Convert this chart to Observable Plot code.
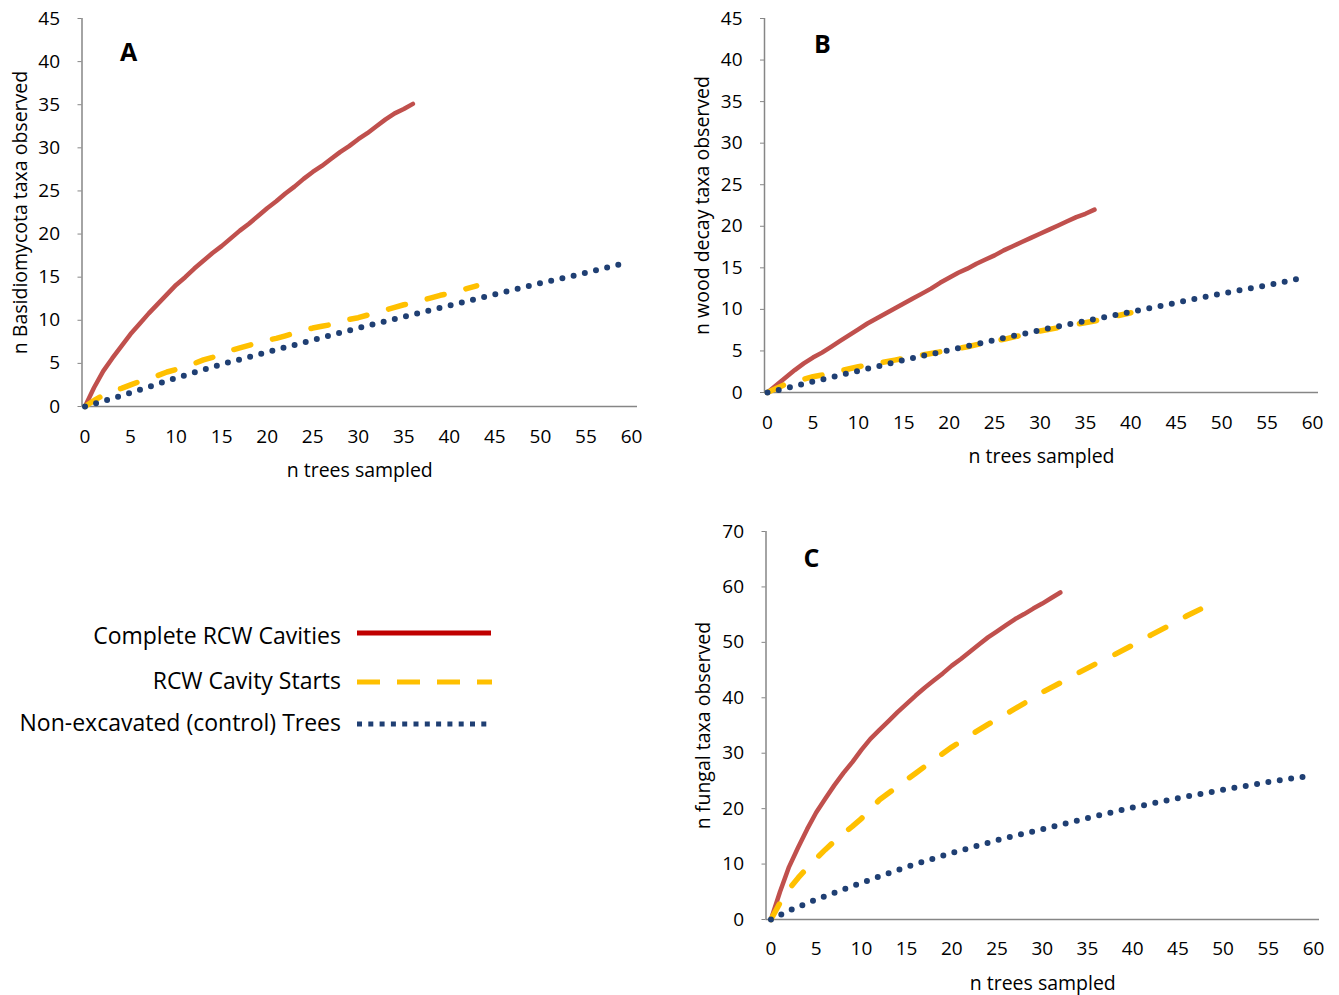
<!DOCTYPE html>
<html><head><meta charset="utf-8">
<script src="https://cdn.jsdelivr.net/npm/d3@7"></script>
<script src="https://cdn.jsdelivr.net/npm/@observablehq/plot@0.6"></script>
<style>
body{margin:0;background:#fff;}
#wrap{position:relative;width:1339px;height:995px;overflow:hidden;background:#fff;}
#wrap > svg{position:absolute;overflow:visible;}
[aria-label="y-axis tick"]{stroke:#868686;}
g[aria-label="y-axis"] .tick line{stroke:#868686;}
g[aria-label="y-axis"] .domain, g[aria-label="x-axis"] .domain{display:none;}
</style></head><body><div id="wrap"></div>
<script>
// ---- shared labels ----
const seriesNames = ["Complete RCW Cavities", "RCW Cavity Starts", "Non-excavated (control) Trees"];
const xTicks = [0,5,10,15,20,25,30,35,40,45,50,55,60];
const xTitle = "n trees sampled";

// ---- Panel A : Basidiomycota ----
const aLetter = "A";
const aYTitle = "n Basidiomycota taxa observed";
const aYTicks = [0,5,10,15,20,25,30,35,40,45];
const aComplete = [0,2.2,4.1,5.6,7.0,8.4,9.6,10.8,11.9,13.0,14.1,15.0,16.0,16.9,17.8,18.6,19.5,20.4,21.2,22.1,23.0,23.8,24.7,25.5,26.4,27.2,27.9,28.7,29.5,30.2,31.0,31.7,32.5,33.3,34.0,34.5,35.1];
const aStarts = [0,0.7,1.3,1.8,2.1,2.5,2.9,3.2,3.6,4.0,4.3,4.7,5.0,5.4,5.7,6.1,6.5,6.8,7.1,7.4,7.7,7.9,8.2,8.5,8.8,9.1,9.3,9.5,9.8,10.1,10.3,10.6,10.9,11.2,11.5,11.8,12.0,12.3,12.6,12.9,13.1,13.4,13.7,14.0];
const aControl = [[0,0],[2,0.6],[5,1.6],[10,3.3],[15,4.9],[20,6.3],[25,7.7],[30,9.1],[35,10.4],[40,11.7],[45,13.0],[50,14.3],[55,15.5],[59.5,16.7]];

// ---- Panel B : wood decay ----
const bLetter = "B";
const bYTitle = "n wood decay taxa observed";
const bYTicks = [0,5,10,15,20,25,30,35,40,45];
const bComplete = [0,0.9,1.8,2.7,3.5,4.2,4.8,5.5,6.2,6.9,7.6,8.3,8.9,9.5,10.1,10.7,11.3,11.9,12.5,13.2,13.8,14.4,14.9,15.5,16.0,16.5,17.1,17.6,18.1,18.6,19.1,19.6,20.1,20.6,21.1,21.5,22.0];
const bStarts = [[0,0],[1,0.5],[2,1.0],[4,1.6],[5,1.9],[6,2.1],[8,2.6],[10,3.1],[12,3.5],[14,3.9],[16,4.3],[18,4.7],[20,5.1],[22,5.5],[24,6.0],[26,6.4],[28,6.9],[30,7.4],[32,7.8],[34,8.2],[36,8.6],[38,9.1],[40,9.6]];
const bControl = [[0,0],[2,0.5],[5,1.3],[10,2.6],[15,3.9],[20,5.1],[25,6.3],[30,7.5],[35,8.6],[40,9.7],[45,10.8],[50,11.9],[55,12.9],[59,13.8]];

// ---- Panel C : all fungal ----
const cLetter = "C";
const cYTitle = "n fungal taxa observed";
const cYTicks = [0,10,20,30,40,50,60,70];
const cComplete = [0,5.0,9.5,13.0,16.3,19.3,21.8,24.2,26.4,28.4,30.6,32.6,34.2,35.8,37.4,38.9,40.4,41.8,43.1,44.4,45.8,47.0,48.3,49.6,50.9,52.0,53.1,54.2,55.1,56.1,57.0,58.0,59.0];
const cStarts = [[0,0],[1,3.0],[2,5.5],[3,7.5],[4,9.3],[5,11.0],[6,12.6],[7,14.1],[8,15.5],[9,16.8],[10,18.2],[12,21.6],[14,24.0],[16,26.4],[18,28.8],[20,31.1],[22,33.2],[24,35.2],[26,37.1],[28,39.0],[30,41.0],[32,42.7],[34,44.5],[36,46.2],[38,47.8],[40,49.5],[42,51.3],[44,53.0],[46,54.8],[47.5,56.0]];
const cControl = [[0,0],[2,1.6],[5,3.6],[10,6.6],[15,9.5],[20,12.0],[25,14.3],[30,16.3],[35,18.3],[40,20.2],[45,21.9],[50,23.4],[55,24.8],[59.5,25.9]];

// ---- styles ----
const FONT = "Open Sans";
const lineStyles = [
  {stroke:"#C0504D", strokeWidth:4.5, strokeLinecap:"round", strokeLinejoin:"round"},
  {stroke:"#FFC000", strokeWidth:5.5, strokeDasharray:"17.5,22.5", strokeLinecap:"round"},
  {stroke:"#1F3F73", strokeWidth:6, strokeDasharray:"0,11.5", strokeLinecap:"round"}
];
const legendStyles = [
  {stroke:"#C00000", width:5, dash:null},
  {stroke:"#FFC000", width:5, dash:"23,17"},
  {stroke:"#1F3F73", width:5, dash:"5,6.3"}
];

const idx = arr => arr.map((y,i)=>[i,y]);
const pairs = arr => (Array.isArray(arr[0]) ? arr : idx(arr)).map(([x,y])=>({x,y}));

function panel(o){
  const series = [o.complete, o.starts, o.control].map(pairs);
  const svg = Plot.plot({
    width:o.w, height:o.h,
    marginLeft:o.ml, marginRight:o.mr, marginTop:o.mt, marginBottom:o.mb,
    style:{fontFamily:FONT, fontSize:"19px", color:"#000", background:"transparent", overflow:"visible"},
    x:{domain:o.xDomain, ticks:xTicks, tickSize:0, tickPadding:o.xPad, label:null, tickFormat:d=>String(d)},
    y:{domain:[o.yTicks[0], o.yTicks[o.yTicks.length-1]], ticks:o.yTicks, tickSize:4, tickPadding:18, label:null, tickFormat:d=>String(d)},
    marks:[
      Plot.ruleY([o.yTicks[0]], {stroke:"#868686", strokeWidth:1.5}),
      Plot.ruleX([o.xDomain[0]], {stroke:"#868686", strokeWidth:1.5}),
      ...series.map((d,i)=>Plot.line(d, {x:"x", y:"y", ...lineStyles[i]})),
      Plot.text([o.letter], {text:d=>d, frameAnchor:"top-left", dx:o.ldx, dy:o.ldy, textAnchor:"middle", lineAnchor:"middle", fontSize:25, fontWeight:"bold", fill:"#000"}),
      Plot.text([xTitle], {text:d=>d, frameAnchor:"bottom", dy:64, textAnchor:"middle", lineAnchor:"middle", fontSize:19.5, fill:"#000"}),
      Plot.text([o.yTitle], {text:d=>d, frameAnchor:"left", dx:o.tdx, rotate:-90, textAnchor:"middle", lineAnchor:"middle", fontSize:19.5, fill:"#000"})
    ]
  });
  svg.style.left = o.left + "px";
  svg.style.top = o.top + "px";
  return svg;
}

const wrap = document.getElementById("wrap");
wrap.appendChild(panel({left:0, top:0, w:660, h:490, ml:81.5, mr:23, mt:18, mb:84, xDomain:[-0.33,60.66], xPad:23,
  yTicks:aYTicks, complete:aComplete, starts:aStarts, control:aControl, letter:aLetter, ldx:46.5, ldy:34, yTitle:aYTitle, tdx:-61.5}));
wrap.appendChild(panel({left:680, top:0, w:659, h:480, ml:84, mr:21, mt:18, mb:88, xDomain:[-0.33,60.66], xPad:23,
  yTicks:bYTicks, complete:bComplete, starts:bStarts, control:bControl, letter:bLetter, ldx:58, ldy:26, yTitle:bYTitle, tdx:-62}));
wrap.appendChild(panel({left:680, top:510, w:659, h:485, ml:85.5, mr:20, mt:21, mb:76, xDomain:[-0.55,60.66], xPad:22,
  yTicks:cYTicks, complete:cComplete, starts:cStarts, control:cControl, letter:cLetter, ldx:45.5, ldy:27, yTitle:cYTitle, tdx:-62}));

// ---- legend ----
const leg = d3.create("svg").attr("width",520).attr("height",150)
  .style("left","0px").style("top","600px");
const rows = [35, 80, 122];
const lineRows = [33, 82, 124];
const lineEnds = [491, 492, 487];
seriesNames.forEach((name,i)=>{
  leg.append("text").attr("x",341).attr("y",rows[i]).attr("text-anchor","end")
    .attr("dominant-baseline","central").attr("font-family",FONT).attr("font-size",23).attr("fill","#000").text(name);
  const l = leg.append("line").attr("x1",357).attr("x2",lineEnds[i]).attr("y1",lineRows[i]).attr("y2",lineRows[i])
    .attr("stroke",legendStyles[i].stroke).attr("stroke-width",legendStyles[i].width);
  if (legendStyles[i].dash) l.attr("stroke-dasharray",legendStyles[i].dash);
});
wrap.appendChild(leg.node());
</script></body></html>
